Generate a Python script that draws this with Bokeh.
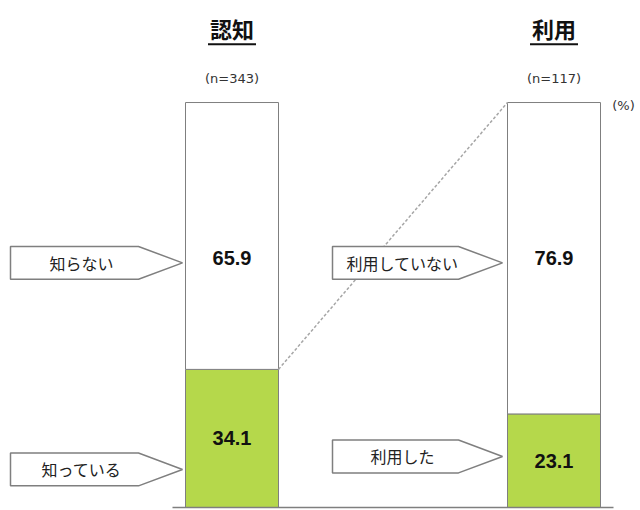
from bokeh.plotting import figure
from bokeh.models import Range1d
from bokeh.core.properties import value
from bokeh.embed import file_html
from bokeh.resources import INLINE

# ---- data ----
panels = ["認知", "利用"]
sample_sizes = ["(n=343)", "(n=117)"]
yes_values = [34.1, 23.1]
no_values = [65.9, 76.9]
yes_labels = ["知っている", "利用した"]
no_labels = ["知らない", "利用していない"]
unit_label = "(%)"

# ---- layout ----
bar_x = [231.5, 553.5]
bar_w = 93
green = "#B5D84B"
edge = "#7F7F7F"
jp = "Noto Sans CJK JP"
num = "Liberation Sans"

p = figure(width=640, height=510, output_backend="svg", toolbar_location=None,
           x_range=Range1d(0, 640), y_range=Range1d(-0.74, 125.19),
           min_border=0, outline_line_color=None)
p.xaxis.visible = False
p.yaxis.visible = False
p.xgrid.visible = False
p.ygrid.visible = False

totals = [a + b for a, b in zip(yes_values, no_values)]

# bars
p.vbar(x=bar_x, width=bar_w, bottom=0, top=yes_values,
       fill_color=green, line_color=edge, line_width=1)
p.vbar(x=bar_x, width=bar_w, bottom=yes_values, top=totals,
       fill_color="white", line_color=edge, line_width=1)

# baseline
p.segment(x0=[172], y0=[0], x1=[613], y1=[0], line_color=edge, line_width=1.5)

# dashed connector
p.segment(x0=[bar_x[0] + bar_w / 2], y0=[yes_values[0]],
          x1=[bar_x[1] - bar_w / 2], y1=[totals[1]],
          line_color="#A6A6A6", line_width=1.5, line_dash="3 2")

# value labels
p.text(x=bar_x, y=[61.5, 61.5], text=[f"{v:.1f}" for v in no_values],
       text_font=value(num), text_font_style="bold", text_font_size="20px",
       text_align="center", text_baseline="middle", text_color="#111111")
p.text(x=bar_x, y=[v / 2 for v in yes_values], text=[f"{v:.1f}" for v in yes_values],
       text_font=value(num), text_font_style="bold", text_font_size="20px",
       text_align="center", text_baseline="middle", text_color="#111111")

# titles
p.text(x=bar_x, y=[118.4, 118.4], text=panels, text_font=value(jp),
       text_font_style="bold", text_font_size="22px",
       text_align="center", text_baseline="middle", text_color="#111111")
p.segment(x0=[x - 24 for x in bar_x], y0=[114.4] * 2,
          x1=[x + 24 for x in bar_x], y1=[114.4] * 2,
          line_color="#111111", line_width=2)
p.text(x=bar_x, y=[106.0, 106.0], text=sample_sizes, text_font=value("DejaVu Sans"),
       text_font_size="13px", text_align="center", text_baseline="middle",
       text_color="#333333")
p.text(x=[623], y=[99.3], text=[unit_label], text_font=value("DejaVu Sans"),
       text_font_size="13px", text_align="center", text_baseline="middle",
       text_color="#333333")

# arrow callouts
def arrow(left, shoulder, tip, yc, h):
    return ([left, shoulder, tip, shoulder, left],
            [yc + h / 2, yc + h / 2, yc, yc - h / 2, yc - h / 2])

h = 8.1
specs = [
    (10, 138, 182, 60.4, no_labels[0]),
    (10, 138, 182, 9.4, yes_labels[0]),
    (332, 458, 502, 60.4, no_labels[1]),
    (332, 458, 502, 12.6, yes_labels[1]),
]
xs, ys, tx, ty, tt = [], [], [], [], []
for left, sh, tip, yc, lab in specs:
    ax, ay = arrow(left, sh, tip, yc, h)
    xs.append(ax)
    ys.append(ay)
    tx.append((left + sh) / 2 + 7)
    ty.append(yc)
    tt.append(lab)
p.patches(xs=xs, ys=ys, fill_color="white", line_color=edge, line_width=1.5)
p.text(x=tx, y=ty, text=tt, text_font=value(jp), text_font_size="16px",
       text_align="center", text_baseline="middle", text_color="#222222")

open("out.html", "w").write(file_html(p, INLINE))
